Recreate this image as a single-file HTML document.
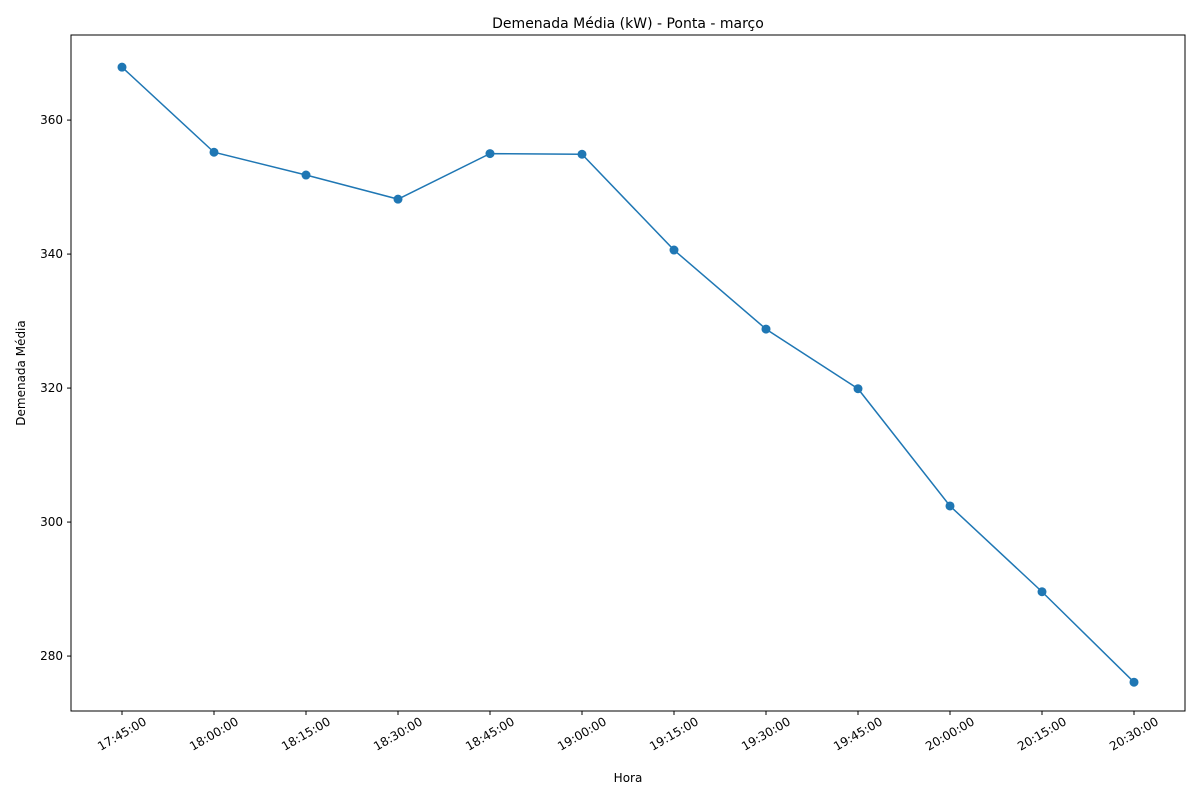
<!DOCTYPE html>
<html><head><meta charset="utf-8"><style>body{margin:0;background:#fff}svg text{font-family:"DejaVu Sans","Liberation Sans",sans-serif;fill:#000}</style></head>
<body>
<svg id="chart" width="1200" height="800"></svg>
<script>
const categories=["17:45:00","18:00:00","18:15:00","18:30:00","18:45:00","19:00:00","19:15:00","19:30:00","19:45:00","20:00:00","20:15:00","20:30:00"];
const values=[367.9,355.2,351.8,348.2,355.0,354.9,340.6,328.8,319.9,302.4,289.6,276.1];
const yTicks=[280,300,320,340,360];
const L=71,R=1185,T=35,B=711,yMin=271.8,yMax=372.7;
const x0=122,dx=92;
const xs=i=>x0+i*dx;
const ys=v=>B-(v-yMin)/(yMax-yMin)*(B-T);
const svg=document.getElementById('chart');
const NS='http://www.w3.org/2000/svg';
function mk(t,a,txt){const e=document.createElementNS(NS,t);for(const k in a)e.setAttribute(k,a[k]);if(txt!==undefined)e.textContent=txt;svg.appendChild(e);return e;}
let e=mk('rect',{x:L,y:T,width:R-L,height:B-T,fill:'none',stroke:'#000','stroke-width':1});


yTicks.forEach(v=>{const y=ys(v);
let t=mk('line',{x1:L-4,x2:L,y1:y,y2:y,stroke:'#000'});


let l=mk('text',{x:L-8,y:y+4,'text-anchor':'end','font-size':12},v);

});
categories.forEach((c,i)=>{const x=xs(i);
let t=mk('line',{x1:x,x2:x,y1:B,y2:B+4,stroke:'#000'});


let cy=B+23;
let l=mk('text',{x:x,y:cy+4,'text-anchor':'middle','font-size':12,transform:`rotate(-30 ${x} ${cy})`},c);

});
let p=mk('polyline',{points:values.map((v,i)=>xs(i)+','+ys(v)).join(' '),fill:'none',stroke:'#1f77b4','stroke-width':1.5});


values.forEach((v,i)=>{let c=mk('circle',{cx:xs(i),cy:ys(v),r:4.5,fill:'#1f77b4'});

});
let ti=mk('text',{x:628,y:28,'text-anchor':'middle','font-size':14},'Demenada Média (kW) - Ponta - março');


let xt=mk('text',{x:628,y:782,'text-anchor':'middle','font-size':12},'Hora');


let yt=mk('text',{x:25,y:373,'text-anchor':'middle','font-size':12,transform:'rotate(-90 25 373)'},'Demenada Média');


</script>
</body></html>
